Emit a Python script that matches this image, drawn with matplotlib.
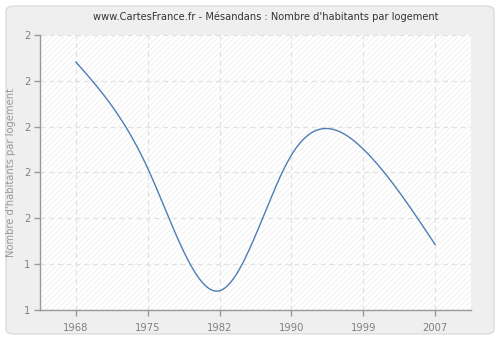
import numpy as np
import matplotlib
matplotlib.use("Agg")
import matplotlib.pyplot as plt
from matplotlib.patches import FancyBboxPatch, Rectangle

years = ["1968", "1975", "1982", "1990", "1999", "2007"]
values = [1.841, 1.609, 1.342, 1.638, 1.651, 1.443]
ytick_values = [1.3, 1.4, 1.5, 1.6, 1.7, 1.8, 1.9]
ytick_labels = ["1", "1", "2", "2", "2", "2", "2"]
title = "www.CartesFrance.fr - Mésandans : Nombre d'habitants par logement"
ylabel = "Nombre d'habitants par logement"


def natural_spline(x, y, n=400):
    x = np.asarray(x, float)
    y = np.asarray(y, float)
    k = len(x)
    h = np.diff(x)
    A = np.zeros((k, k))
    b = np.zeros(k)
    A[0, 0] = 1
    A[-1, -1] = 1
    for i in range(1, k - 1):
        A[i, i - 1] = h[i - 1]
        A[i, i] = 2 * (h[i - 1] + h[i])
        A[i, i + 1] = h[i]
        b[i] = 6 * ((y[i + 1] - y[i]) / h[i] - (y[i] - y[i - 1]) / h[i - 1])
    M = np.linalg.solve(A, b)
    xs = np.linspace(x[0], x[-1], n)
    ys = np.empty_like(xs)
    for j, xv in enumerate(xs):
        i = min(np.searchsorted(x, xv, side="right") - 1, k - 2)
        t0 = x[i + 1] - xv
        t1 = xv - x[i]
        ys[j] = (M[i] * t0**3 / (6 * h[i]) + M[i + 1] * t1**3 / (6 * h[i])
                 + (y[i] / h[i] - M[i] * h[i] / 6) * t0
                 + (y[i + 1] / h[i] - M[i + 1] * h[i] / 6) * t1)
    return xs, ys


plt.rcParams["font.family"] = ["DejaVu Sans"]
plt.rcParams["hatch.linewidth"] = 0.5
plt.rcParams["hatch.color"] = "#ececec"

fig = plt.figure(figsize=(5, 3.4), dpi=100)
fig.patch.set_facecolor("white")
bg = FancyBboxPatch((0.012, 0.018), 0.976, 0.964,
                    boxstyle="round,pad=0,rounding_size=0.015",
                    transform=fig.transFigure, facecolor="#efefef",
                    edgecolor="#dcdcdc", linewidth=1.0, zorder=-10)
fig.patches.append(bg)

ax = fig.add_axes([0.08, 0.0882, 0.862, 0.809])
ax.set_facecolor("white")
ax.add_patch(Rectangle((0, 0), 1, 1, transform=ax.transAxes,
                       facecolor="#ffffff", edgecolor="#ececec",
                       hatch="//////", linewidth=0, zorder=0))

xpos = np.arange(len(years))
xs, ys = natural_spline(xpos, values)
ax.plot(xs, ys, color="#4f7db5", linewidth=1.0, zorder=3)

ax.set_xlim(-0.5, 5.5)
ax.set_ylim(ytick_values[0], ytick_values[0] + 0.6)
ax.set_xticks(xpos)
ax.set_xticklabels(years)
ax.set_yticks(ytick_values)
ax.set_yticklabels(ytick_labels)

ax.grid(True, color="#e2e2e2", linestyle=(0, (4, 3)), linewidth=0.9, zorder=1)
ax.set_axisbelow(True)
for s in ["top", "right"]:
    ax.spines[s].set_visible(False)
for s in ["left", "bottom"]:
    ax.spines[s].set_color("#999999")
    ax.spines[s].set_linewidth(1.0)
ax.tick_params(axis="both", colors="#999999", labelcolor="#808080",
               labelsize=7.2, length=4, width=1.0, direction="out")
ax.tick_params(axis="x", pad=5)
ax.tick_params(axis="y", pad=3)

ax.set_ylabel(ylabel, color="#999999", fontsize=7.2, labelpad=6)
fig.text(0.532, 0.951, title, ha="center", va="center", fontsize=7.1,
         color="#333333")

fig.savefig("out.png", dpi=100, facecolor=fig.get_facecolor())
